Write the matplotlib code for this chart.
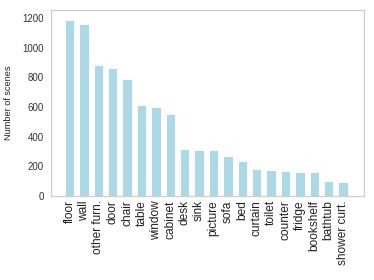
import matplotlib
matplotlib.use("Agg")
import matplotlib.pyplot as plt

plt.rcParams["font.family"] = ["Liberation Sans", "DejaVu Sans"]

categories = ["floor", "wall", "other furn.", "door", "chair", "table", "window",
              "cabinet", "desk", "sink", "picture", "sofa", "bed", "curtain",
              "toilet", "counter", "fridge", "bookshelf", "bathtub", "shower curt."]
counts = [1184, 1162, 881, 863, 788, 611, 598, 553, 317, 312, 308, 267, 233,
          181, 177, 168, 165, 161, 102, 93]

fig = plt.figure(figsize=(3.74, 2.8), dpi=100)
ax = fig.add_axes([0.136, 0.30, 0.837, 0.664])

x = range(len(categories))
ax.bar(x, counts, width=0.65, color="#add8e6", edgecolor="white", linewidth=0.6)

ax.set_xticks(list(x))
ax.set_xticklabels(categories, rotation=90, fontsize=8.6, color="#222222")
ax.set_xlim(-1.3, 20.45)
ax.set_ylim(0, 1253)
ax.set_yticks([0, 200, 400, 600, 800, 1000, 1200])
ax.tick_params(axis="y", labelsize=7, colors="#333333", length=0, pad=5)
ax.tick_params(axis="x", length=0, pad=3)
ax.set_ylabel("Number of scenes", fontsize=6.6, color="#222222", labelpad=7)

for s in ax.spines.values():
    s.set_color("#cccccc")
    s.set_linewidth(0.9)

fig.savefig("out.png", dpi=100)
